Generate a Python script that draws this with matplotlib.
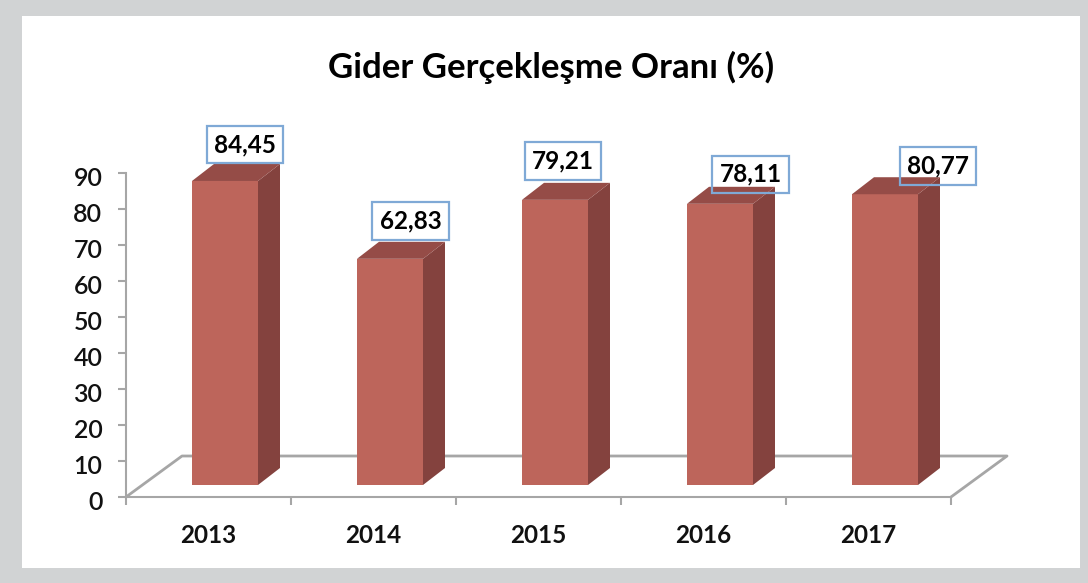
import matplotlib
matplotlib.use("Agg")
import matplotlib.pyplot as plt
from matplotlib.patches import Polygon, Rectangle
from matplotlib.transforms import ScaledTranslation
import numpy as np

plt.rcParams['font.family'] = ['Lato', 'DejaVu Sans']

years = ['2013', '2014', '2015', '2016', '2017']
values = [84.45, 62.83, 79.21, 78.11, 80.77]
value_labels = ['84,45', '62,83', '79,21', '78,11', '80,77']
yticks = [0, 10, 20, 30, 40, 50, 60, 70, 80, 90]

W, H = 1088, 583
GREY = '#d1d3d4'
AXIS = '#a6a6a6'
FRONT = '#bd655b'
SIDE = '#84423e'
TOP = '#954c47'
BOX = '#7fa9d6'

fig = plt.figure(figsize=(W / 100, H / 100), dpi=100, facecolor=GREY)
fig.add_artist(Rectangle((22 / W, 1 - 568 / H), 1058 / W, 552 / H, transform=fig.transFigure,
                         facecolor='white', edgecolor='none', zorder=-1))

ax = fig.add_axes([126 / W, 1 - 497 / H, 825 / W, 324 / H])
ax.patch.set_alpha(0)
ax.set_xlim(-0.5, 4.5)
ax.set_ylim(0, 90)

# pixel -> data unit sizes
px_x = 5 / 825
px_y = 90 / 324

# floor of the 3d chart
fx, fy = 56 * px_x, 41 * px_y
ax.plot([-0.5, -0.5 + fx, 4.5 + fx, 4.5], [0, fy, fy, 0], color=AXIS, lw=2, clip_on=False, zorder=1)

# bars
shift = 16.5 * px_x
width = 66 * px_x
base = 12 * px_y
dx, dy = 22 * px_x, 17 * px_y
x = np.arange(len(years)) + shift
ax.bar(x, values, width=width, bottom=base, color=FRONT, zorder=3, clip_on=False)
for xi, v in zip(x, values):
    left, right, top = xi - width / 2, xi + width / 2, base + v
    ax.add_patch(Polygon([(right, base), (right + dx, base + dy), (right + dx, top + dy), (right, top)],
                         facecolor=SIDE, edgecolor='none', zorder=3, clip_on=False))
    ax.add_patch(Polygon([(left, top), (left + dx, top + dy), (right + dx, top + dy), (right, top)],
                         facecolor=TOP, edgecolor='none', zorder=3, clip_on=False))

# axes
for s in ['top', 'right']:
    ax.spines[s].set_visible(False)
for s in ['left', 'bottom']:
    ax.spines[s].set_color(AXIS)
    ax.spines[s].set_linewidth(1.5)
ax.set_yticks(yticks)
ax.tick_params(axis='y', length=6, width=1.5, color=AXIS, labelsize=18, pad=11, labelcolor='#111111')
down = ScaledTranslation(0, -3 / 100, fig.dpi_scale_trans)
for t in ax.get_yticklabels():
    t.set_fontweight('semibold')
    t.set_transform(t.get_transform() + down)
ax.set_xticks(np.arange(-0.5, 5))
ax.set_xticklabels([])
ax.set_xticks(np.arange(5), minor=True)
ax.set_xticklabels(years, minor=True, fontsize=17.5, fontweight='bold', color='#111111')
ax.tick_params(axis='x', which='major', length=6, width=1.5, color=AXIS)
ax.tick_params(axis='x', which='minor', length=0, pad=19.5)

# value boxes, offset from top of each bar in pixels
label_dx = [36.5, 37, 24.5, 47, 69.5]
label_dy = [48.5, 50, 51, 41.5, 40.5]
for i, (xi, v, lab) in enumerate(zip(np.arange(5), values, value_labels)):
    ax.annotate(lab, (xi, v), xytext=(label_dx[i] * 0.72, label_dy[i] * 0.72), textcoords='offset points',
                ha='center', va='center', fontsize=17.5, fontweight='bold', color='black', zorder=5,
                annotation_clip=False,
                bbox=dict(boxstyle='square,pad=0.3', facecolor='none', edgecolor=BOX, linewidth=1.6))

fig.text(551 / W, 1 - 67 / H, 'Gider Gerçekleşme Oranı (%)', ha='center', va='center',
         fontsize=25, fontweight='bold', color='black')

fig.savefig('out.png', dpi=100, facecolor=fig.get_facecolor())
